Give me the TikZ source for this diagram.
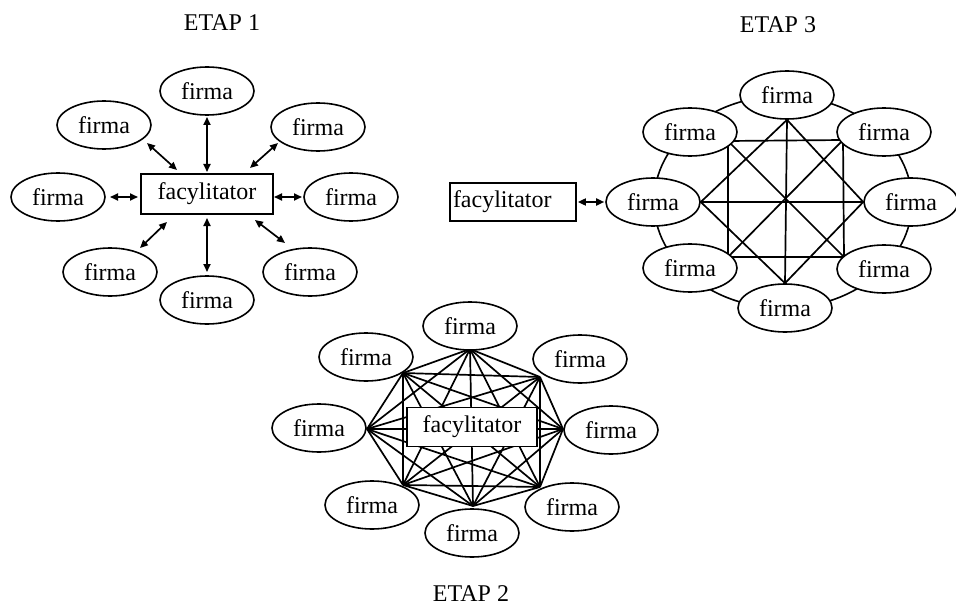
\documentclass[tikz,border=0pt]{standalone}
\usepackage{fontspec}
\setmainfont{Liberation Serif}
\usetikzlibrary{shapes.geometric,arrows.meta,calc}
\pgfdeclarelayer{bg}
\pgfsetlayers{bg,main}
\begin{document}
\begin{tikzpicture}[x=1pt,y=-1pt,
  firm/.style={ellipse,draw,line width=1.6pt,fill=white,minimum width=94pt,minimum height=48pt,inner sep=0pt,font=\fontsize{24}{28}\selectfont},
  fac/.style={rectangle,draw,line width=1.7pt,fill=white,inner sep=0pt,font=\fontsize{24}{28}\selectfont},
  lbl/.style={font=\fontsize{24}{28}\selectfont,inner sep=0pt},
  arr/.style={line width=1.7pt,{Triangle[length=8pt,width=7pt]}-{Triangle[length=8pt,width=7pt]}},
  link/.style={line width=1.7pt},
  ring/.style={line width=1.6pt}]
\useasboundingbox (0,0) rectangle (956,607);

% ---------- ETAP 1 ----------
\node[lbl] (t1) at (222,23) {ETAP 1};
\node[fac,minimum width=132pt,minimum height=40pt] (f1) at (207,194) {facylitator};
\node[firm] (a1) at (207,91) {firma};
\node[firm] (a2) at (318,127) {firma};
\node[firm] (a3) at (351,197) {firma};
\node[firm] (a4) at (310,272) {firma};
\node[firm] (a5) at (207,300) {firma};
\node[firm] (a6) at (110,272) {firma};
\node[firm] (a7) at (58,197) {firma};
\node[firm] (a8) at (104,125) {firma};
\draw[arr] ($(a1)+(0,26)$) -- ($(f1)+(0,-22)$);
\draw[arr] ($(a2)+(-40,16)$) -- ($(f1)+(43,-26)$);
\draw[arr] ($(a3)+(-49,0)$) -- ($(f1)+(67,3)$);
\draw[arr] ($(a4)+(-25,-29)$) -- ($(f1)+(48,26)$);
\draw[arr] ($(a5)+(0,-28)$) -- ($(f1)+(0,24)$);
\draw[arr] ($(a6)+(30,-24)$) -- ($(f1)+(-40,28)$);
\draw[arr] ($(a7)+(52,0)$) -- ($(f1)+(-69,3)$);
\draw[arr] ($(a8)+(43,18)$) -- ($(f1)+(-30,-24)$);

% ---------- ETAP 3 ----------
\node[lbl] (t3) at (778,25) {ETAP 3};
\node[firm] (b1) at (787,95) {firma};
\node[firm] (b2) at (884,132) {firma};
\node[firm] (b3) at (911,202) {firma};
\node[firm] (b4) at (884,269) {firma};
\node[firm] (b5) at (785,308) {firma};
\node[firm] (b6) at (690,268) {firma};
\node[firm] (b7) at (653,202) {firma};
\node[firm] (b8) at (690,132) {firma};
\node[fac,minimum height=38pt,text width=120pt,align=left,inner xsep=3pt] (f3) at (513,202) {facylitator};
\draw[arr] ($(f3.east)+(1,0)$) -- ($(b7.west)+(-1,0)$);
\coordinate (q1) at (b1.south);
\coordinate (q2) at ($(b2)+(-41,8)$);
\coordinate (q3) at (b3.west);
\coordinate (q4) at ($(b4)+(-40,-12)$);
\coordinate (q5) at (b5.north);
\coordinate (q6) at ($(b6)+(38,-11)$);
\coordinate (q7) at (b7.east);
\coordinate (q8) at ($(b8)+(38,9)$);
\begin{pgfonlayer}{bg}
  \draw[ring] (783,202) ellipse [x radius=129pt, y radius=106pt];
  \draw[link] (q8) -- (q2) -- (q4) -- (q6) -- cycle;
  \draw[link] (q1) -- (q7) -- (q5) -- (q3) -- cycle;
  \draw[link] (q1) -- (q5);
  \draw[link] (q7) -- (q3);
  \draw[link] (q8) -- (q4);
  \draw[link] (q2) -- (q6);
\end{pgfonlayer}

% ---------- ETAP 2 ----------
\node[lbl] (t2) at (471,594) {ETAP 2};
\node[firm] (c1) at (470,326) {firma};
\node[firm] (c2) at (580,359) {firma};
\node[firm] (c3) at (611,430) {firma};
\node[firm] (c4) at (572,507) {firma};
\node[firm] (c5) at (472,533) {firma};
\node[firm] (c6) at (372,505) {firma};
\node[firm] (c7) at (319,428) {firma};
\node[firm] (c8) at (366,357) {firma};
\node[fac,line width=1.9pt,minimum width=130pt,minimum height=39pt] (f2) at (472,427) {facylitator};
\coordinate (r1) at ($(c1)+(0,23)$);
\coordinate (r2) at ($(c2)+(-40,18)$);
\coordinate (r3) at ($(c3)+(-48,-1)$);
\coordinate (r4) at ($(c4)+(-32,-20)$);
\coordinate (r5) at ($(c5)+(1,-27)$);
\coordinate (r6) at ($(c6)+(31,-20)$);
\coordinate (r7) at ($(c7)+(48,1)$);
\coordinate (r8) at ($(c8)+(37,16)$);
\begin{pgfonlayer}{bg}
  \foreach \i in {1,...,7}{
    \pgfmathtruncatemacro\nxt{\i+1}
    \foreach \j in {\nxt,...,8}{
      \draw[link] (r\i) -- (r\j);
    }
  }
\end{pgfonlayer}
\end{tikzpicture}
\end{document}
